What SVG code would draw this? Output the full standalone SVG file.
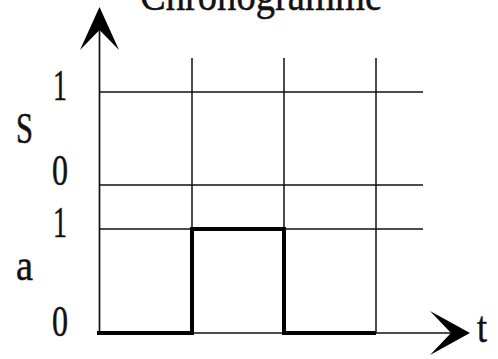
<svg xmlns="http://www.w3.org/2000/svg" width="498" height="359" viewBox="0 0 498 359">
<style>
.grid{stroke:#111;stroke-width:1.5;fill:none}
.axis{stroke:#111;stroke-width:1.7;fill:none}
.sig{stroke:#000;stroke-width:4;fill:none;stroke-linejoin:miter}
.lbl{font-family:"Liberation Serif","Times New Roman",serif;font-size:44px;fill:#111;stroke:#111;stroke-width:0.5}
.head{fill:#000}
</style>
<rect width="498" height="359" fill="#fff"/>
<g id="title"><text class="lbl" x="140" y="10" textLength="242" lengthAdjust="spacingAndGlyphs">Chronogramme</text></g>
<g id="grid">
<line class="grid" x1="99" y1="92" x2="423" y2="92"/>
<line class="grid" x1="99" y1="185" x2="423" y2="185"/>
<line class="grid" x1="99" y1="229" x2="423" y2="229"/>
<line class="grid" x1="192" y1="58" x2="192" y2="333"/>
<line class="grid" x1="284" y1="58" x2="284" y2="333"/>
<line class="grid" x1="376" y1="58" x2="376" y2="333"/>
</g>
<g id="axes">
<line class="axis" x1="99.5" y1="333" x2="99.5" y2="30"/>
<path class="head" d="M99.5,7 L119,50 L99.5,30 L80,50 Z"/>
<line class="axis" x1="99" y1="333" x2="452" y2="333"/>
<path class="head" d="M470,333 L430,355 L451,333 L430,311 Z"/>
</g>
<g id="signal-a"><polyline class="sig" points="97,333 192,333 192,229 284,229 284,333 376,333"/></g>
<g id="labels">
<text class="lbl" x="53" y="100" textLength="14" lengthAdjust="spacingAndGlyphs">1</text>
<text class="lbl" x="16" y="143" textLength="17" lengthAdjust="spacingAndGlyphs">S</text>
<text class="lbl" x="52" y="185" textLength="16" lengthAdjust="spacingAndGlyphs">0</text>
<text class="lbl" x="53" y="237" textLength="14" lengthAdjust="spacingAndGlyphs">1</text>
<text class="lbl" x="16" y="280" textLength="17" lengthAdjust="spacingAndGlyphs">a</text>
<text class="lbl" x="52" y="336" textLength="16" lengthAdjust="spacingAndGlyphs">0</text>
<text class="lbl" x="477" y="342" textLength="10" lengthAdjust="spacingAndGlyphs">t</text>
</g>
</svg>
